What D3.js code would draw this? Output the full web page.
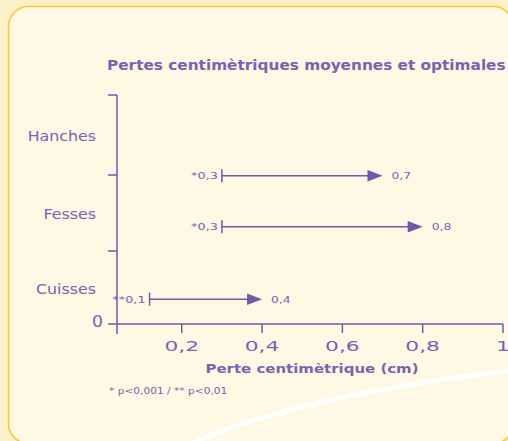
<!DOCTYPE html>
<html>
<head>
<meta charset="utf-8">
<script src="https://cdn.jsdelivr.net/npm/d3@7"></script>
<style>
  body { margin: 0; background: #fdf1c9; }
  text { font-family: "DejaVu Sans", sans-serif; }
</style>
</head>
<body>
<div class="chart"></div>
<script>
// Data
var categories = ["Cuisses", "Fesses", "Hanches"];
var startValues = [0.12, 0.3, 0.3];
var endValues = [0.4, 0.8, 0.7];
var startLabels = ["**0,1", "*0,3", "*0,3"];
var endLabels = ["0,4", "0,8", "0,7"];
// where each arrow sits on the category axis (0 = bottom, 3 = top)
var arrowLevels = [0.34, 1.32, 1.99];
var xTicks = [0.2, 0.4, 0.6, 0.8, 1];

var w = 508, h = 441;
var purple = "#6d5ba8";
var textPurple = "#7664b1";

var svg = d3.select(".chart")
            .append("svg")
            .attr("width", w)
            .attr("height", h);

//The original font is a wide one, so stretch the text horizontally
function widen(sel, factor){
  sel.each(function(){
    var len = this.getComputedTextLength();
    d3.select(this)
      .attr("textLength", len * factor)
      .attr("lengthAdjust", "spacingAndGlyphs");
  });
}

//Panel and the white swoosh
svg.append("rect")
   .attr("x", 8.5).attr("y", 6.5)
   .attr("width", 505).attr("height", 437)
   .attr("rx", 20)
   .attr("fill", "#fef8e5")
   .attr("stroke", "#fdc633")
   .attr("stroke-width", 1.6);

svg.append("path")
   .attr("d", "M185,446 Q300,395 515,370")
   .attr("fill", "none")
   .attr("stroke", "#ffffff")
   .attr("stroke-width", 5);

//Scales
var x = d3.scaleLinear()
          .domain([0, 1])
          .range([101.4, 503]);

var y = d3.scaleLinear()
          .domain([0, 1, 2, 3])
          .range([324, 251, 175, 95]);

var y0 = 117; // the y axis line

//Title
svg.append("text")
   .attr("x", 107).attr("y", 70)
   .attr("fill", textPurple)
   .style("font-weight", "bold")
   .style("font-size", "13.2px")
   .text("Pertes centimètriques moyennes et optimales")
   .call(widen, 1.16);

//Y axis
svg.append("line")
   .attr("x1", y0).attr("x2", y0)
   .attr("y1", y(3)).attr("y2", y(0) + 10)
   .attr("stroke", purple).attr("stroke-width", 1.5);

svg.selectAll(".ytick")
   .data([1, 2, 3])
   .enter()
   .append("line")
   .attr("class", "ytick")
   .attr("x1", y0 - 9).attr("x2", y0)
   .attr("y1", function(d){ return y(d); })
   .attr("y2", function(d){ return y(d); })
   .attr("stroke", purple).attr("stroke-width", 1.5);

svg.selectAll(".cat")
   .data(categories)
   .enter()
   .append("text")
   .attr("class", "cat")
   .attr("x", 96)
   .attr("y", function(d, i){ return y(i + 0.5) + 6; })
   .attr("text-anchor", "end")
   .attr("fill", textPurple)
   .style("font-size", "14px")
   .text(function(d){ return d; })
   .call(widen, 1.13);

svg.append("text")
   .attr("x", 103).attr("y", y(0) + 3)
   .attr("text-anchor", "end")
   .attr("fill", textPurple)
   .style("font-size", "15px")
   .text("0")
   .call(widen, 1.15);

//X axis
svg.append("line")
   .attr("x1", y0 - 9).attr("x2", x(1))
   .attr("y1", y(0)).attr("y2", y(0))
   .attr("stroke", purple).attr("stroke-width", 1.5);

svg.selectAll(".xtick")
   .data(xTicks)
   .enter()
   .append("line")
   .attr("class", "xtick")
   .attr("x1", function(d){ return x(d); })
   .attr("x2", function(d){ return x(d); })
   .attr("y1", y(0)).attr("y2", y(0) + 9)
   .attr("stroke", purple).attr("stroke-width", 1.5);

svg.selectAll(".xlab")
   .data(xTicks)
   .enter()
   .append("text")
   .attr("class", "xlab")
   .attr("x", function(d){ return x(d); })
   .attr("y", y(0) + 27)
   .attr("text-anchor", "middle")
   .attr("fill", textPurple)
   .style("font-size", "14.5px")
   .text(function(d){ return String(d).replace(".", ","); })
   .call(widen, 1.5);

svg.append("text")
   .attr("x", 312).attr("y", y(0) + 49)
   .attr("text-anchor", "middle")
   .attr("fill", textPurple)
   .style("font-weight", "bold")
   .style("font-size", "13px")
   .text("Perte centimètrique (cm)")
   .call(widen, 1.15);

svg.append("text")
   .attr("x", 109).attr("y", 394)
   .attr("fill", textPurple)
   .style("font-size", "9px")
   .text("* p<0,001 / ** p<0,01")
   .call(widen, 1.18);

//Arrows
var arrows = svg.selectAll(".arrow")
                .data(categories)
                .enter()
                .append("g")
                .attr("class", "arrow");

arrows.append("line")
      .attr("x1", function(d, i){ return x(startValues[i]); })
      .attr("x2", function(d, i){ return x(endValues[i]) - 10; })
      .attr("y1", function(d, i){ return y(arrowLevels[i]); })
      .attr("y2", function(d, i){ return y(arrowLevels[i]); })
      .attr("stroke", purple).attr("stroke-width", 1.5);

arrows.append("line")
      .attr("x1", function(d, i){ return x(startValues[i]); })
      .attr("x2", function(d, i){ return x(startValues[i]); })
      .attr("y1", function(d, i){ return y(arrowLevels[i]) - 6.5; })
      .attr("y2", function(d, i){ return y(arrowLevels[i]) + 6.5; })
      .attr("stroke", purple).attr("stroke-width", 1.5);

arrows.append("path")
      .attr("d", function(d, i){
        var tx = x(endValues[i]), ty = y(arrowLevels[i]);
        return "M" + (tx - 15) + "," + (ty - 5.8) + "L" + tx + "," + ty + "L" + (tx - 15) + "," + (ty + 5.8) + "Z";
      })
      .attr("fill", purple);

arrows.append("text")
      .attr("x", function(d, i){ return x(startValues[i]) - 4; })
      .attr("y", function(d, i){ return y(arrowLevels[i]) + 3.5; })
      .attr("text-anchor", "end")
      .attr("fill", textPurple)
      .style("font-size", "9.5px")
      .text(function(d, i){ return startLabels[i]; })
      .call(widen, 1.35);

arrows.append("text")
      .attr("x", function(d, i){ return x(endValues[i]) + 9; })
      .attr("y", function(d, i){ return y(arrowLevels[i]) + 3.5; })
      .attr("fill", textPurple)
      .style("font-size", "9.5px")
      .text(function(d, i){ return endLabels[i]; })
      .call(widen, 1.3);
</script>
</body>
</html>
